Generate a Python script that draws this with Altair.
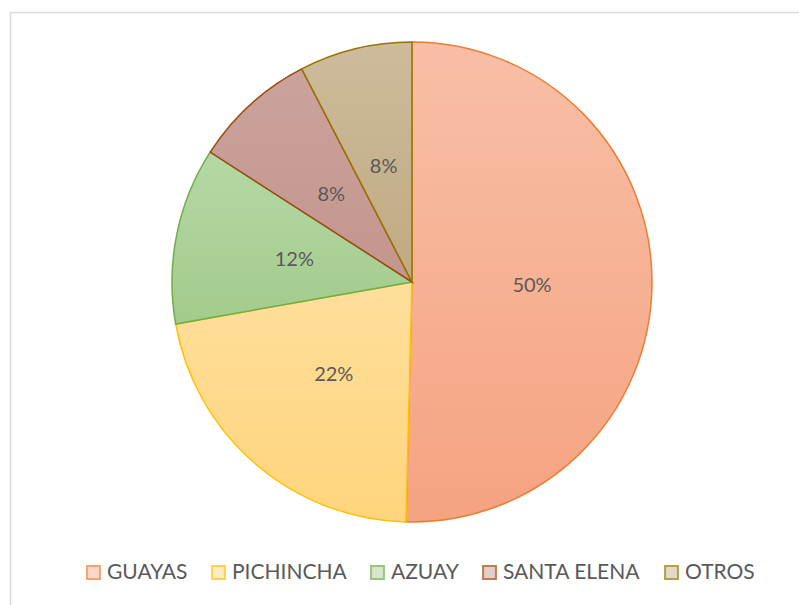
import altair as alt
import pandas as pd

names = ["GUAYAS", "PICHINCHA", "AZUAY", "SANTA ELENA", "OTROS"]
values = [50.4, 21.8, 11.9, 8.3, 7.6]
labels = ["50%", "22%", "12%", "8%", "8%"]
fill_top = ["#F8BFA6", "#FFDF9C", "#B5D8A6", "#CBA29C", "#CDBB9C"]
fill_bot = ["#F5A381", "#FFD47C", "#A3CB8B", "#C3968E", "#C0AA81"]
fill_mid = ["#F6B093", "#FFD98A", "#ACD198", "#C79C95", "#C6B38E"]
strokes = ["#ED7D31", "#FFC000", "#70AD47", "#9E480E", "#997300"]

df = pd.DataFrame({"name": names, "value": values, "label": labels,
                   "idx": list(range(len(names)))})

CX, CY, R = 412, 282, 240
theta_scale = alt.Scale(domain=[0, 100], range=[0, 6.283185307179586])

base = alt.Chart(df).transform_stack(
    stack="value", groupby=[], as_=["v0", "v1"], sort=[alt.SortField("idx")]
).transform_calculate(mid="(datum.v0 + datum.v1) / 2")

layers = []
# frame
frame = alt.Chart(df).mark_rule(color="#D9D9D9", strokeWidth=1.5)
layers.append(frame.transform_filter("datum.idx == 0").encode(
    x=alt.value(10.5), y=alt.value(12.5), y2=alt.value(605)))
layers.append(frame.transform_filter("datum.idx == 0").encode(
    x=alt.value(10.5), x2=alt.value(799), y=alt.value(12.5)))

for i, n in enumerate(names):
    grad = alt.Gradient(gradient="linear", x1=0, x2=0, y1=0, y2=1,
                        stops=[alt.GradientStop(color=fill_top[i], offset=0),
                               alt.GradientStop(color=fill_bot[i], offset=1)])
    layers.append(
        base.transform_filter(alt.datum.idx == i).mark_arc(
            fill=grad, stroke=strokes[i], strokeWidth=1.5, outerRadius=R
        ).encode(
            theta=alt.Theta("v0:Q", scale=theta_scale),
            theta2="v1:Q",
            x=alt.value(CX), y=alt.value(CY),
        )
    )

text = base.mark_text(radius=120, font="Lato", fontSize=20, color="#595959", dy=2).encode(
    theta=alt.Theta("mid:Q", scale=theta_scale),
    x=alt.value(CX), y=alt.value(CY),
    text="label:N",
)
layers.append(text)

legend_layer = alt.Chart(df).mark_square(size=0).encode(
    x=alt.value(-50), y=alt.value(-50),
    fill=alt.Fill("name:N", scale=alt.Scale(domain=names, range=fill_mid),
                  legend=alt.Legend(
                      orient="none", legendX=83, legendY=562, direction="horizontal",
                      title=None, symbolType="square", symbolSize=165,
                      symbolStrokeWidth=2, symbolOpacity=1,
                      labelFont="Lato", labelFontSize=21, labelColor="#595959",
                      columnPadding=20, labelOffset=3, labelLimit=300)),
    stroke=alt.Stroke("name:N", scale=alt.Scale(domain=names, range=strokes)),
)
layers.append(legend_layer)

chart = alt.layer(*layers).properties(
    width=799, height=605, autosize=alt.AutoSizeParams(type="none"),
    padding=0, background="white"
).configure_view(stroke=None)

chart.save("out.html", embed_options={"renderer": "svg", "actions": False})
